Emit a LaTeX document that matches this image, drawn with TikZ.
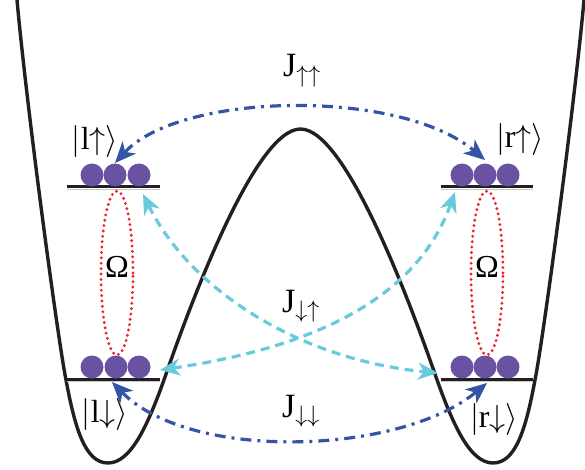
\RequirePackage{fix-cm}
\documentclass[tikz,border=0pt]{standalone}
\usepackage{fontspec}
\setmainfont{Liberation Serif}
\usetikzlibrary{arrows.meta,shapes.geometric}
\definecolor{purp}{RGB}{106,82,163}
\definecolor{jblue}{RGB}{52,84,166}
\definecolor{jcyan}{RGB}{104,202,221}
\definecolor{rdot}{RGB}{238,34,40}
\definecolor{curvek}{RGB}{35,31,32}
\begin{document}
\begin{tikzpicture}[x=1pt,y=-1pt,
  atom/.style={circle,fill=purp,minimum size=23pt,inner sep=0pt},
  levelbar/.style={line width=3pt,curvek},
  barshadow/.style={line width=1pt,black!22},
  ket/.style={font=\fontsize{32}{34}\selectfont,inner sep=0pt},
  jlab/.style={font=\fontsize{34}{36}\selectfont,inner sep=0pt,anchor=base west},
  omlab/.style={font=\fontsize{32}{34}\selectfont,inner sep=0pt},
  rabi/.style={ellipse,draw=rdot,line width=3.2pt,line cap=round,dash pattern=on 0pt off 5.4pt,minimum width=32pt,minimum height=164pt,inner sep=0pt},
  jdashdot/.style={jblue,line width=3.2pt,dash pattern=on 11pt off 6pt on 3pt off 6pt,{Stealth[length=21pt,width=18pt,inset=6pt]}-{Stealth[length=21pt,width=18pt,inset=6pt]}},
  jdash/.style={jcyan,line width=3.2pt,dash pattern=on 9pt off 6pt,{Stealth[length=20pt,width=17pt,inset=6pt]}-{Stealth[length=20pt,width=17pt,inset=6pt]}}
]
\useasboundingbox (0,0) rectangle (585,470);
% potential
\draw[line width=3.4pt,curvek,line join=round]
 (17,0) .. controls (27,110) and (58,340) .. (66,380)
 .. controls (75,428) and (85,463) .. (108,463)
 .. controls (131,463) and (148,425) .. (165,377)
 .. controls (190,305) and (255,129) .. (300.5,129)
 .. controls (346,129) and (411,305) .. (436,377)
 .. controls (453,425) and (470,463) .. (493,463)
 .. controls (516,463) and (526,428) .. (535,380)
 .. controls (543,340) and (574,110) .. (584,0);
% level bars
\foreach \xa/\xb/\yy in {67/160/187, 441/533/187, 67/160/379, 441/533/379}{
  \draw[barshadow] (\xa,\yy+2.2) -- (\xb,\yy+2.2);
  \draw[levelbar] (\xa,\yy) -- (\xb,\yy);
}
% atoms
\node[atom] (ul1) at (92,175) {};
\node[atom] (ul2) at (115,175) {};
\node[atom] (ul3) at (139,175) {};
\node[atom] (ur1) at (462,175) {};
\node[atom] (ur2) at (485,175) {};
\node[atom] (ur3) at (508,175) {};
\node[atom] (ll1) at (92,367) {};
\node[atom] (ll2) at (116,367) {};
\node[atom] (ll3) at (139,367) {};
\node[atom] (lr1) at (462,367) {};
\node[atom] (lr2) at (485,367) {};
\node[atom] (lr3) at (508,367) {};
% Rabi loops
\node[rabi] (omL) at (117,273) {};
\node[rabi] (omR) at (487,273) {};
\node[omlab] (omLt) at (117,267) {Ω};
\node[omlab] (omRt) at (487,267) {Ω};
% kets
\node[ket] (kul) at (95,142) {$|\mathrm{l}{\uparrow}\rangle$};
\node[ket] (kur) at (520,140) {$|\mathrm{r}{\uparrow}\rangle$};
\node[ket] (kll) at (105,414) {$|\mathrm{l}{\downarrow}\rangle$};
\node[ket] (klr) at (494,419) {$|\mathrm{r}{\downarrow}\rangle$};
% J labels
\node[jlab] (juu) at (283,77) {J$_{\uparrow\uparrow}$};
\node[jlab] (jdu) at (282,312) {J$_{\downarrow\uparrow}$};
\node[jlab] (jdd) at (282,417) {J$_{\downarrow\downarrow}$};
% arrow end points
\coordinate (tUL) at (115,163);
\coordinate (tUR) at (485,160);
\coordinate (tLL) at (112,382);
\coordinate (tLR) at (487,383);
\coordinate (cLL) at (160,370);
\coordinate (cUR) at (455,192);
\coordinate (cUL) at (143,194);
\coordinate (cLR) at (438,373);
% tunnelling arrows
\draw[jdash] (cLL) .. controls (330,345) and (420,290) .. (cUR);
\draw[jdash] (cUL) .. controls (190,290) and (300,360) .. (cLR);
\draw[jdashdot] (tUL) .. controls (180,92) and (400,88) .. (tUR);
\draw[jdashdot] (tLL) .. controls (190,462) and (400,455) .. (tLR);
\end{tikzpicture}
\end{document}
